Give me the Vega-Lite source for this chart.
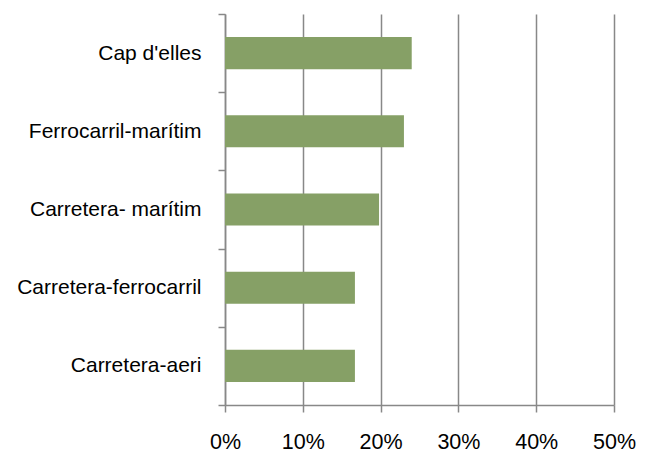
{
  "$schema": "https://vega.github.io/schema/vega-lite/v6.json",
  "autosize": "none",
  "width": 389,
  "height": 391,
  "padding": {"left": 225, "top": 14, "right": 34, "bottom": 47},
  "background": "white",
  "data": {"values": [
    {"categoria": "Cap d'elles", "valor": 0.24},
    {"categoria": "Ferrocarril-marítim", "valor": 0.23},
    {"categoria": "Carretera- marítim", "valor": 0.198},
    {"categoria": "Carretera-ferrocarril", "valor": 0.167},
    {"categoria": "Carretera-aeri", "valor": 0.167}
  ]},
  "mark": {"type": "bar", "color": "#86a066", "height": {"band": 0.41}},
  "encoding": {
    "y": {
      "field": "categoria", "type": "nominal", "sort": null, "title": null,
      "scale": {"paddingInner": 0, "paddingOuter": 0},
      "axis": {
        "domainColor": "#888888", "domainWidth": 1.5,
        "ticks": true, "tickBand": "extent", "tickColor": "#888888", "tickSize": 7, "tickWidth": 1.5,
        "labelFont": "Liberation Sans", "labelFontSize": 21, "labelColor": "#000000",
        "labelPadding": 17, "grid": false, "labelLimit": 300
      }
    },
    "x": {
      "field": "valor", "type": "quantitative", "title": null,
      "scale": {"domain": [0, 0.5], "nice": false},
      "axis": {
        "format": ".0%", "values": [0, 0.1, 0.2, 0.3, 0.4, 0.5],
        "grid": true, "gridColor": "#888888", "gridWidth": 1.5,
        "domainColor": "#888888", "domainWidth": 1.5,
        "tickColor": "#888888", "tickSize": 7, "tickWidth": 1.5,
        "labelFont": "Liberation Sans", "labelFontSize": 21.5, "labelColor": "#000000",
        "labelPadding": 19, "labelDx": 9, "labelOverlap": false, "labelFlush": false
      }
    }
  },
  "config": {"view": {"stroke": null}}
}
